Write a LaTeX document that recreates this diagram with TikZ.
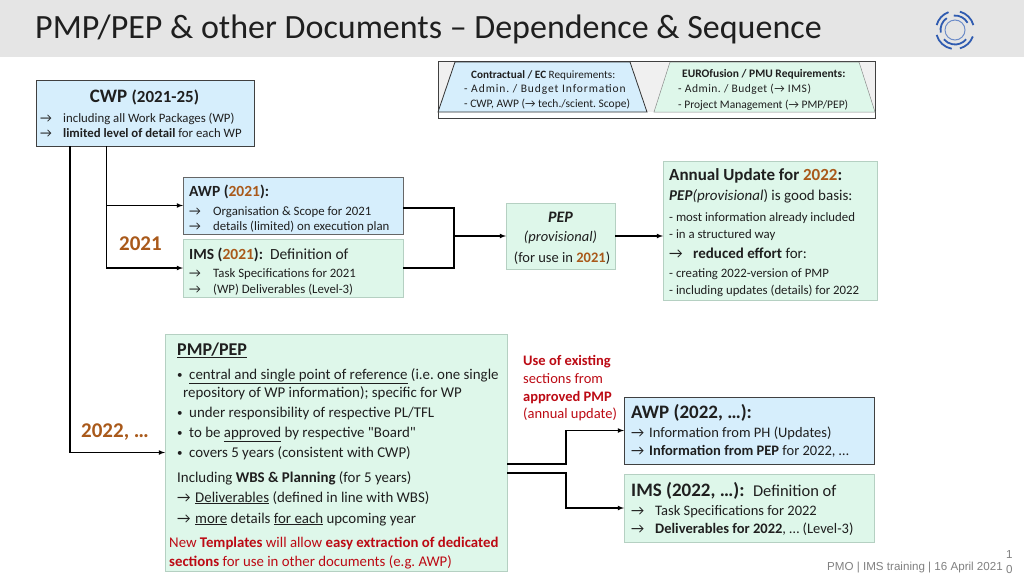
\documentclass[tikz,border=0pt]{standalone}
\usepackage{fontspec}
\setmainfont{Carlito}
\newfontfamily\footfont{Liberation Sans}
\newfontfamily\plainfont{Carlito}
\definecolor{bluefill}{HTML}{D6EEFC}
\definecolor{greenfill}{HTML}{DEF7EA}
\definecolor{greenedge}{HTML}{B5D0C2}
\definecolor{yearcol}{HTML}{A9591A}
\definecolor{redcol}{HTML}{BC0A14}
\definecolor{logocol}{HTML}{2F5BB0}
\newcommand{\yrc}[1]{\textcolor{yearcol}{\textbf{#1}}}
\newcommand{\fs}[1]{\fontsize{#1}{#1}\selectfont}
\frenchspacing
\tikzset{
  bluebox/.style={draw=black!75, fill=bluefill, line width=0.9pt, inner sep=0pt, outer sep=0pt},
  greenbox/.style={draw=greenedge, fill=greenfill, line width=0.9pt, inner sep=0pt, outer sep=0pt},
  ln/.style={anchor=base west, inner sep=0pt, text=black!88},
  conn/.style={draw=black, line width=1.1pt},
  connarr/.style={conn, -latex},
}
\begin{document}
\begin{tikzpicture}[x=1pt,y=-1pt]
\useasboundingbox (0,0) rectangle (1024,576);
% header
\fill[black!10] (0,0) rectangle (1024,57);
\node[ln, font=\fs{34}] (title) at (35,38) {PMP/PEP \& other Documents -- Dependence \& Sequence};
\foreach \r/\a/\b in {19/20/75, 19/100/165, 19/195/250, 19/285/345, 14.5/40/140, 14.5/170/235, 14.5/265/330} {
  \draw[logocol, line width=1.8pt] (955,30) ++(\a:\r) arc[start angle=\a, end angle=\b, radius=\r];
}
\draw[logocol!70, line width=1pt] (955,30) circle[radius=10];
% requirements strip
\node[draw=black!75, fill=black!6, line width=1pt, inner sep=0pt, minimum width=437, minimum height=57] (reqbox) at (656.5,89.5) {};
\fill[white] (438.5,112) rectangle (874.5,117.5);
\draw[black!80, fill=bluefill, line width=0.8pt] (455,62) -- (630,62) -- (647,112) -- (438,112) -- cycle;
\draw[black!45, fill=greenfill, line width=0.5pt] (670,62) -- (859,62) -- (875,112) -- (654,112) -- cycle;
\node[ln, font=\fs{11.2}] (reqa) at (471,78) {\textbf{Contractual / EC} Requirements:};
\node[ln, font=\fs{11.5}\addfontfeature{LetterSpace=8}] (reqb) at (464,92) {- Admin. / Budget Information};
\node[ln, font=\fs{11.5}] (reqc) at (464,107) {- CWP, AWP (→ tech./scient. Scope)};
\node[ln, font=\fs{11.5}] (reqd) at (682,77) {\textbf{EUROfusion / PMU Requirements:}};
\node[ln, font=\fs{11.5}\addfontfeature{LetterSpace=4.5}] (reqe) at (678,92) {- Admin. / Budget (→ IMS)};
\node[ln, font=\fs{11.5}] (reqf) at (678,108) {- Project Management (→ PMP/PEP)};
% boxes
\node[bluebox, minimum width=218, minimum height=66] (cwp) at (145,113) {};
\node[bluebox, draw=black!60, line width=1pt, minimum width=220, minimum height=57] (awp) at (293,205.5) {};
\node[greenbox, minimum width=220, minimum height=58] (ims) at (293,268) {};
\node[greenbox, minimum width=109, minimum height=66] (pep) at (560.5,236) {};
\node[greenbox, minimum width=214, minimum height=139] (annual) at (770,230.5) {};
\node[greenbox, minimum width=342, minimum height=237] (pmp) at (336,452.5) {};
\node[bluebox, minimum width=250, minimum height=67] (awpb) at (749,430.5) {};
\node[greenbox, minimum width=250, minimum height=68] (imsb) at (749,508) {};
% connectors
\coordinate (cwpl) at (70,146);
\coordinate (cwpr) at (106.5,146);
\coordinate (cwpj) at (106.5,205.5);
\coordinate (pepj) at (454,236);
\coordinate (pmpa) at (507,464);
\coordinate (pmpb) at (507,473);
\coordinate (pmpaj) at (566,464);
\coordinate (pmpbj) at (566,473);
\coordinate (awpe) at (403,208);
\coordinate (imse) at (403,268);
\draw[connarr] (cwpl) |- (pmp.west);
\draw[connarr] (cwpr) |- (ims.west);
\draw[connarr] (cwpj) -- (awp.west);
\draw[conn] (awpe) -| (pepj);
\draw[conn] (imse) -| (pepj);
\draw[connarr] (pepj) -- (pep.west);
\draw[connarr] (pep.east) -- (pep.east -| annual.west);
\draw[connarr] (pmpa) -- (pmpaj) |- (awpb.west);
\draw[connarr] (pmpb) -- (pmpbj) |- (imsb.west);
% CWP
\node[anchor=base, inner sep=0pt, font=\fs{19}, text=black!88] (cwpt) at (144.5,102) {\textbf{CWP} \fs{17}\textbf{(2021-25)}};
\node[ln, font=\fs{13}] (cwpaa) at (40,122) {→};
\node[ln, font=\fs{12.8}] (cwpa) at (63,122) {including all Work Packages (WP)};
\node[ln, font=\fs{13}] (cwpba) at (40,137) {→};
\node[ln, font=\fs{12.8}] (cwpb) at (63,137) {\textbf{limited level of detail} for each WP};
% AWP and IMS 2021
\node[ln, font=\fs{15.5}] (awpt) at (189,196.5) {\textbf{AWP (}\yrc{2021}\textbf{):}};
\node[ln, font=\fs{13}] (awpaa) at (189,215) {→};
\node[ln, font=\fs{12.8}] (awpa) at (213,215) {Organisation \& Scope for 2021};
\node[ln, font=\fs{13}] (awpba) at (189,230) {→};
\node[ln, font=\fs{12.8}] (awpc) at (213,230) {details (limited) on execution plan};
\node[ln, font=\fs{15.5}] (imst) at (189,259) {\textbf{IMS (}\yrc{2021}\textbf{):}\ \ Definition of};
\node[ln, font=\fs{13}] (imsaa) at (189,277) {→};
\node[ln, font=\fs{12.8}] (imsa) at (213,277) {Task Specifications for 2021};
\node[ln, font=\fs{13}] (imsba) at (189,293) {→};
\node[ln, font=\fs{12.8}] (imsc) at (213,293) {(WP) Deliverables (Level-3)};
\node[ln, font=\fs{21}, text=yearcol] (yra) at (119,250) {\textbf{2021}};
% PEP
\node[anchor=base, inner sep=0pt, font=\fs{16}, text=black!88] (pepa) at (560.5,222) {\textbf{\textit{PEP}}};
\node[anchor=base, inner sep=0pt, font=\fs{14.5}, text=black!88] (pepb) at (560.5,241) {\textit{(provisional)}};
\node[anchor=base, inner sep=0pt, font=\fs{14.5}, text=black!88] (pepc) at (562,262) {(for use in \yrc{2021})};
% annual update
\node[ln, font=\fs{17}] (annt) at (669,180) {\textbf{Annual Update for }\yrc{2022}\textbf{:}};
\node[ln, font=\fs{15}] (anna) at (669,200) {\textbf{\textit{PEP}}\textit{(provisional}) is good basis:};
\node[ln, font=\fs{12.8}] (annb) at (669,221) {- most information already included};
\node[ln, font=\fs{12.8}] (annc) at (669,238) {- in a structured way};
\node[ln, font=\fs{15}] (annda) at (669,258) {→};
\node[ln, font=\fs{15}] (annd) at (693,258) {\textbf{reduced effort} for:};
\node[ln, font=\fs{12.8}] (anne) at (669,277) {- creating 2022-version of PMP};
\node[ln, font=\fs{12.8}] (annf) at (669,294) {- including updates (details) for 2022};
% PMP/PEP
\node[ln, font=\fs{18}] (pmpt) at (177,355) {\underline{\textbf{PMP/PEP}}};
\node[ln, font=\fs{11}] (pmpaa) at (177,378) {•};
\node[ln, font=\fs{14.9}] (pmpc) at (189,379) {\underline{central and single point of reference} (i.e. one single};
\node[ln, font=\fs{14.9}] (pmpd) at (183,397) {repository of WP information); specific for WP};
\node[ln, font=\fs{11}] (pmpea) at (177,416) {•};
\node[ln, font=\fs{14.9}] (pmpe) at (189,417) {under responsibility of respective PL/TFL};
\node[ln, font=\fs{11}] (pmpfa) at (177,436) {•};
\node[ln, font=\fs{14.9}] (pmpf) at (189,437) {to be \underline{approved} by respective {\plainfont"Board"}};
\node[ln, font=\fs{11}] (pmpga) at (177,456) {•};
\node[ln, font=\fs{14.9}] (pmpg) at (189,457) {covers 5 years (consistent with CWP)};
\node[ln, font=\fs{14.9}] (pmph) at (177,482) {Including \textbf{WBS \& Planning} (for 5 years)};
\node[ln, font=\fs{14.9}] (pmpia) at (177,502) {→};
\node[ln, font=\fs{14.9}] (pmpi) at (195,502) {\underline{Deliverables} (defined in line with WBS)};
\node[ln, font=\fs{14.9}] (pmpja) at (177,523) {→};
\node[ln, font=\fs{14.9}] (pmpj) at (195,523) {\underline{more} details \underline{for each} upcoming year};
\node[ln, font=\fs{14.8}, text=redcol] (pmpk) at (169,547) {New \textbf{Templates} will allow \textbf{easy extraction of dedicated}};
\node[ln, font=\fs{14.8}, text=redcol] (pmpl) at (169,566) {\textbf{sections} for use in other documents (e.g. AWP)};
\node[ln, font=\fs{21}, text=yearcol] (yrb) at (81,437) {\textbf{2022, …}};
% red note
\node[ln, font=\fs{14.5}, text=redcol] (notea) at (523,365) {\textbf{Use of existing}};
\node[ln, font=\fs{14.5}, text=redcol] (noteb) at (523,383) {sections from};
\node[ln, font=\fs{14.5}, text=redcol] (notec) at (523,401) {\textbf{approved PMP}};
\node[ln, font=\fs{14.5}, text=redcol] (noted) at (523,418) {(annual update)};
% AWP and IMS 2022
\node[ln, font=\fs{19}] (awpbt) at (631,418) {\textbf{AWP (2022, …):}};
\node[ln, font=\fs{14.5}] (awpbaa) at (631,437) {→};
\node[ln, font=\fs{14.5}] (awpba2) at (649,437) {Information from PH (Updates)};
\node[ln, font=\fs{14.5}] (awpbca) at (631,455) {→};
\node[ln, font=\fs{14.5}] (awpbc) at (649,455) {\textbf{Information from PEP} for 2022, …};
\node[ln, font=\fs{19}] (imsbt) at (631,496) {\textbf{IMS (2022, …):}\ \ \fs{16.5}Definition of};
\node[ln, font=\fs{14.5}] (imsbaa) at (631,515) {→};
\node[ln, font=\fs{14.5}] (imsba2) at (655,515) {Task Specifications for 2022};
\node[ln, font=\fs{14.5}] (imsbca) at (631,533) {→};
\node[ln, font=\fs{14.5}] (imsbc) at (655,533) {\textbf{Deliverables for 2022}, … (Level-3)};
% footer
\node[ln, font=\footfont\fs{11.6}, text=black!50] (foot) at (827,570) {PMO | IMS training | 16 April 2021};
\node[ln, font=\footfont\fs{11.6}, text=black!50] (pga) at (1006,558) {1};
\node[ln, font=\footfont\fs{11.6}, text=black!50] (pgb) at (1006,573) {0};
\end{tikzpicture}
\end{document}
